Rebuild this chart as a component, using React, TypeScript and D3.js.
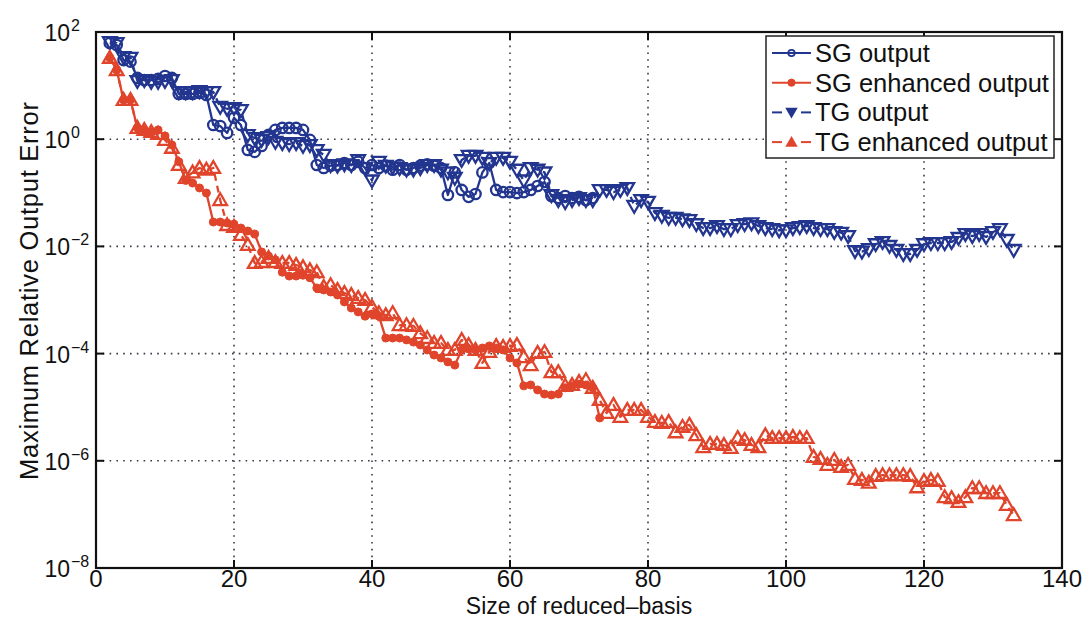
import React from 'react';
import * as d3 from 'd3';

// Reduced-basis sizes start at N = 2; each array holds one value per size.
const startSize = 2;

// SG output, N = 2..72
const sgOutput = [
  62, 57, 30, 28, 13.9, 12.7, 12.7, 13.3, 15.1, 13.9,
  7.0, 7.0, 7.0, 7.3, 6.7, 1.84, 1.76, 1.31, 2.5, 1.84,
  0.63, 0.58, 0.75, 1.2, 1.49, 1.62, 1.62, 1.62, 1.49, 0.97,
  0.33, 0.29, 0.32, 0.33, 0.36, 0.33, 0.38, 0.29, 0.33, 0.29,
  0.32, 0.27, 0.33, 0.27, 0.29, 0.32, 0.34, 0.32, 0.29, 0.091,
  0.24, 0.113, 0.084, 0.095, 0.24, 0.36, 0.113, 0.103, 0.103, 0.099,
  0.103, 0.113, 0.134, 0.159, 0.087, 0.08, 0.087, 0.08, 0.084, 0.073,
  0.08,
];

// SG enhanced output, N = 2..73
const sgEnhanced = [
  33, 19.5, 5.4, 5.4, 1.62, 1.49, 1.36, 1.49, 1.15, 0.78,
  0.38, 0.17, 0.152, 0.123, 0.099, 0.0285, 0.0285, 0.0273, 0.026, 0.022,
  0.0194, 0.017, 0.0079, 0.0066, 0.0056, 0.0033, 0.0028, 0.0028, 0.0029, 0.0026,
  0.00168, 0.00154, 0.00141, 0.00124, 0.00092, 0.00071, 0.0006, 0.0005, 0.00055, 0.0005,
  1.95e-4, 1.95e-4, 1.95e-4, 1.8e-4, 1.64e-4, 1.45e-4, 1.17e-4, 9.4e-5, 8.3e-5, 7.0e-5,
  6.1e-5, 1.17e-4, 1.22e-4, 1.17e-4, 1.27e-4, 1.39e-4, 1.27e-4, 1.17e-4, 8.3e-5, 6.7e-5,
  2.5e-5, 2.6e-5, 2.1e-5, 1.76e-5, 1.69e-5, 1.76e-5, 2.3e-5, 2.5e-5, 2.7e-5, 2.6e-5,
  2.3e-5, 6.3e-6,
];

// TG output, N = 2..133
const tgOutput = [
  65, 62, 34, 33, 12.2, 12.7, 11.7, 11.7, 12.2, 12.7,
  7.6, 7.6, 7.6, 7.9, 7.6, 7.6, 4.0, 3.7, 3.8, 3.5,
  1.2, 1.05, 0.97, 1.1, 0.89, 0.85, 0.81, 0.85, 0.75, 0.78,
  0.63, 0.51, 0.33, 0.32, 0.34, 0.33, 0.41, 0.29, 0.17, 0.38,
  0.32, 0.3, 0.29, 0.27, 0.27, 0.29, 0.33, 0.33, 0.27, 0.24,
  0.19, 0.41, 0.49, 0.49, 0.45, 0.36, 0.45, 0.45, 0.38, 0.27,
  0.17, 0.29, 0.27, 0.24, 0.091, 0.073, 0.067, 0.073, 0.08, 0.073,
  0.073, 0.113, 0.113, 0.103, 0.113, 0.123, 0.057, 0.073, 0.068, 0.042,
  0.037, 0.034, 0.034, 0.032, 0.031, 0.026, 0.022, 0.022, 0.024, 0.021,
  0.021, 0.025, 0.026, 0.027, 0.024, 0.022, 0.021, 0.02, 0.02, 0.022,
  0.023, 0.024, 0.022, 0.021, 0.021, 0.0186, 0.018, 0.0156, 0.0082, 0.008,
  0.0089, 0.011, 0.0121, 0.0102, 0.0086, 0.0072, 0.0072, 0.0086, 0.011, 0.0115,
  0.0115, 0.0115, 0.0121, 0.0144, 0.017, 0.0156, 0.017, 0.015, 0.0186, 0.021,
  0.0132, 0.0086,
];

// TG enhanced output, N = 2..133
const tgEnhanced = [
  33, 19.5, 5.4, 5.4, 1.62, 1.49, 1.36, 1.25, 0.97, 0.69,
  0.33, 0.19, 0.24, 0.29, 0.27, 0.29, 0.073, 0.025, 0.023, 0.0163,
  0.0106, 0.0049, 0.0051, 0.0061, 0.0051, 0.0049, 0.0049, 0.0045, 0.0041, 0.0036,
  0.0033, 0.00175, 0.0019, 0.00154, 0.00135, 0.00124, 0.00109, 0.001, 0.00074, 0.00057,
  0.00052, 0.00057, 3.4e-4, 3.4e-4, 3.3e-4, 2.4e-4, 1.95e-4, 1.58e-4, 1.58e-4, 1.17e-4,
  1.17e-4, 1.8e-4, 1.45e-4, 1.17e-4, 6.7e-5, 1.07e-4, 1.39e-4, 1.33e-4, 1.39e-4, 1.45e-4,
  8.6e-5, 6.1e-5, 1.03e-4, 1.07e-4, 4.5e-5, 4.5e-5, 2.5e-5, 2.6e-5, 2.95e-5, 3.2e-5,
  2.3e-5, 1.36e-5, 7.8e-6, 1.1e-5, 6.6e-6, 8.9e-6, 8.9e-6, 8.9e-6, 6.6e-6, 5.3e-6,
  5.1e-6, 5.3e-6, 3.4e-6, 4.3e-6, 4.7e-6, 3.0e-6, 1.8e-6, 2.06e-6, 2.06e-6, 1.97e-6,
  1.73e-6, 2.66e-6, 2.44e-6, 1.97e-6, 1.8e-6, 3.0e-6, 2.66e-6, 2.66e-6, 2.66e-6, 2.78e-6,
  2.66e-6, 2.66e-6, 1.18e-6, 1.08e-6, 8.4e-7, 1.04e-6, 7.7e-7, 8.4e-7, 4.6e-7, 4.4e-7,
  3.9e-7, 5.2e-7, 5.4e-7, 5.4e-7, 5.4e-7, 5.4e-7, 5.2e-7, 3.2e-7, 4.2e-7, 4.4e-7,
  4.2e-7, 2.1e-7, 2.0e-7, 1.7e-7, 2.1e-7, 3.1e-7, 3.1e-7, 2.5e-7, 2.5e-7, 2.5e-7,
  1.5e-7, 9.7e-8,
];

const xTicks = [0, 20, 40, 60, 80, 100, 120, 140];
const yTickExponents = [2, 0, -2, -4, -6, -8];
const seriesLabels = ['SG output', 'SG enhanced output', 'TG output', 'TG enhanced output'];
const xLabel = 'Size of reduced\u2013basis';
const yLabel = 'Maximum Relative Output Error';

const W = 1085;
const H = 619;
const plot = { left: 96, top: 32, right: 1062, bottom: 568 };
const BLUE = '#22358f';
const RED = '#e0452c';
const FONT = '"Liberation Sans", Arial, Helvetica, sans-serif';

type Pt = [number, number];
type Marker = 'circle' | 'dot' | 'down' | 'up';

const triPath = d3.symbol().type(d3.symbolTriangle).size(80)() as string;
const triSmall = d3.symbol().type(d3.symbolTriangle).size(42)() as string;

function MarkerShape({ kind, cx, cy, color, legend }: { kind: Marker; cx: number; cy: number; color: string; legend?: boolean }) {
  if (kind === 'circle') {
    return <circle cx={cx} cy={cy} r={legend ? 3.2 : 5.2} fill="none" stroke={color} strokeWidth={legend ? 1.8 : 2.3} />;
  }
  if (kind === 'dot') {
    return <circle cx={cx} cy={cy} r={legend ? 3.6 : 4} fill={color} stroke={color} strokeWidth={1} />;
  }
  const d = legend ? triSmall : triPath;
  const rot = kind === 'down' ? 180 : 0;
  return (
    <path
      d={d}
      transform={`translate(${cx},${cy + (kind === 'down' ? -1 : 1)}) rotate(${rot})`}
      fill={legend ? color : 'none'}
      stroke={color}
      strokeWidth={legend ? 1.5 : 2.3}
      strokeLinejoin="miter"
    />
  );
}

export default function App() {
  const x = d3.scaleLinear().domain([0, 140]).range([plot.left, plot.right]);
  const y = d3.scaleLog().domain([1e-8, 1e2]).range([plot.bottom, plot.top]);
  const line = d3.line<Pt>().x((d) => x(d[0])).y((d) => y(d[1]));
  const toPts = (vals: number[]): Pt[] => vals.map((v, i) => [startSize + i, v]);

  const series = [
    { label: seriesLabels[0], data: toPts(sgOutput), color: BLUE, dashed: false, marker: 'circle' as Marker },
    { label: seriesLabels[1], data: toPts(sgEnhanced), color: RED, dashed: false, marker: 'dot' as Marker },
    { label: seriesLabels[2], data: toPts(tgOutput), color: BLUE, dashed: true, marker: 'down' as Marker },
    { label: seriesLabels[3], data: toPts(tgEnhanced), color: RED, dashed: true, marker: 'up' as Marker },
  ];

  const tickLen = 8;
  const gridStyle = { stroke: '#3a3a48', strokeWidth: 1.6, strokeDasharray: '1.6,5.2' };

  const legend = { x: 766, y: 36, w: 288, h: 122, row0: 53, rowStep: 29.7 };

  return (
    <svg
      width={W}
      height={H}
      viewBox={`0 0 ${W} ${H}`}
      style={{ position: 'absolute', left: 0, top: 0, background: '#fff' }}
      fontFamily={FONT}
    >
      <rect x={0} y={0} width={W} height={H} fill="#fff" />

      {/* grid */}
      {xTicks.filter((t) => t > 0 && t < 140).map((t) => (
        <line key={`gx${t}`} x1={x(t)} x2={x(t)} y1={plot.top} y2={plot.bottom} {...gridStyle} />
      ))}
      {yTickExponents.filter((e) => e < 2 && e > -8).map((e) => (
        <line key={`gy${e}`} x1={plot.left} x2={plot.right} y1={y(Math.pow(10, e))} y2={y(Math.pow(10, e))} {...gridStyle} />
      ))}

      {/* series */}
      {series.map((s) => (
        <g key={s.label}>
          <path
            d={line(s.data) as string}
            fill="none"
            stroke={s.color}
            strokeWidth={2.3}
            strokeDasharray={s.dashed ? '7,5' : undefined}
            strokeLinejoin="round"
          />
          {s.data.map((p, i) => (
            <MarkerShape key={i} kind={s.marker} cx={x(p[0])} cy={y(p[1])} color={s.color} />
          ))}
        </g>
      ))}

      {/* axes box */}
      <rect
        x={plot.left}
        y={plot.top}
        width={plot.right - plot.left}
        height={plot.bottom - plot.top}
        fill="none"
        stroke="#111"
        strokeWidth={2.2}
      />
      {xTicks.map((t) => (
        <g key={`tx${t}`}>
          <line x1={x(t)} x2={x(t)} y1={plot.bottom} y2={plot.bottom - tickLen} stroke="#111" strokeWidth={2} />
          <line x1={x(t)} x2={x(t)} y1={plot.top} y2={plot.top + tickLen} stroke="#111" strokeWidth={2} />
          <text x={x(t)} y={587} textAnchor="middle" fontSize={24} fill="#111">
            {t}
          </text>
        </g>
      ))}
      {yTickExponents.map((e) => {
        const yy = y(Math.pow(10, e));
        return (
          <g key={`ty${e}`}>
            <line x1={plot.left} x2={plot.left + tickLen} y1={yy} y2={yy} stroke="#111" strokeWidth={2} />
            <line x1={plot.right} x2={plot.right - tickLen} y1={yy} y2={yy} stroke="#111" strokeWidth={2} />
            <text x={70} y={yy + 9} textAnchor="end" fontSize={23} fill="#111">
              10
            </text>
            <text x={71} y={yy - 1} textAnchor="start" fontSize={16} fill="#111">
              {e < 0 ? `\u2212${-e}` : `${e}`}
            </text>
          </g>
        );
      })}

      {/* axis labels */}
      <text x={(plot.left + plot.right) / 2} y={613.5} textAnchor="middle" fontSize={23} fill="#111">
        {xLabel}
      </text>
      <text
        transform={`translate(38,${(plot.top + plot.bottom) / 2 - 9}) rotate(-90)`}
        textAnchor="middle"
        fontSize={25.5}
        textLength={378}
        lengthAdjust="spacing"
        fill="#111"
      >
        {yLabel}
      </text>

      {/* legend */}
      <rect x={legend.x} y={legend.y} width={legend.w} height={legend.h} fill="#fff" stroke="#222" strokeWidth={1.5} />
      {series.map((s, i) => {
        const ry = legend.row0 + i * legend.rowStep;
        return (
          <g key={`lg${i}`}>
            {s.dashed ? (
              <>
                <line x1={772} x2={782} y1={ry} y2={ry} stroke={s.color} strokeWidth={2} />
                <line x1={801} x2={811} y1={ry} y2={ry} stroke={s.color} strokeWidth={2} />
              </>
            ) : (
              <line x1={772} x2={811} y1={ry} y2={ry} stroke={s.color} strokeWidth={2} />
            )}
            <MarkerShape kind={s.marker} cx={791.5} cy={ry} color={s.color} legend />
            <text x={815} y={ry + 9} fontSize={25.5} fill="#111">
              {s.label}
            </text>
          </g>
        );
      })}
    </svg>
  );
}
